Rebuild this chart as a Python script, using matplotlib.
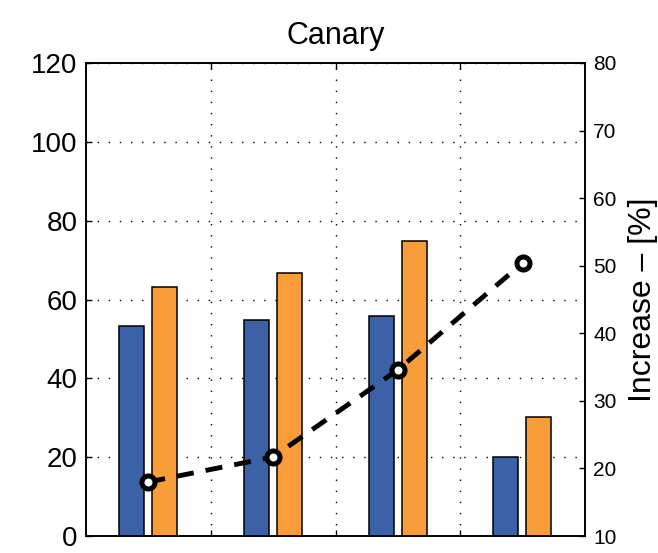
import numpy as np
import matplotlib
matplotlib.use("Agg")
from matplotlib import pyplot as plt

plt.rcParams['font.family'] = ['Liberation Sans', 'DejaVu Sans']

groups = [1, 2, 3, 4]
blue_vals = [53.4, 54.8, 55.8, 20.0]
orange_vals = [63.2, 66.8, 74.8, 30.2]
increase = [18.0, 21.7, 34.6, 50.4]

left_ticks = [0, 20, 40, 60, 80, 100, 120]
right_ticks = [10, 20, 30, 40, 50, 60, 70, 80]
grid_x = [1.5, 2.5, 3.5]

blue = '#3B62A6'
orange = '#F99D3A'

fig = plt.figure(figsize=(6.58, 5.53), dpi=100)
ax = fig.add_axes([86/658, 17/553, 499/658, 473/553])

x = np.array(groups)
ax.bar(x - 0.135, blue_vals, width=0.2, color=blue, edgecolor='black', linewidth=1.1, zorder=3)
ax.bar(x + 0.13, orange_vals, width=0.2, color=orange, edgecolor='black', linewidth=1.1, zorder=3)

ax.set_xlim(0.5, 4.5)
ax.set_ylim(0, 120)
ax.set_xticks(grid_x)
ax.set_xticklabels([])
ax.set_yticks(left_ticks)
ax.tick_params(axis='y', direction='in', length=4, width=1, labelsize=20, pad=6)
ax.tick_params(axis='x', direction='in', length=4, width=1, top=True, bottom=True)
ax.grid(True, color='black', linestyle=(0, (1, 7)), linewidth=1.0, zorder=0)
ax.set_axisbelow(True)
for s in ax.spines.values():
    s.set_linewidth(1.2)

ax.set_title('Canary', fontsize=22, pad=14)

ax2 = ax.twinx()
ax2.set_ylim(10, 80)
ax2.set_yticks(right_ticks)
ax2.tick_params(axis='y', direction='in', length=4, width=1, labelsize=15, pad=6)
ax2.plot(groups, increase, color='black', linestyle=(0, (3.5, 2.5)), linewidth=3.5,
         marker='o', markersize=9.4, markerfacecolor='white', markeredgecolor='black',
         markeredgewidth=3.6, zorder=5)
ax2.set_ylabel('Increase \u2013 [%]', fontsize=23, labelpad=8)
for s in ax2.spines.values():
    s.set_linewidth(1.2)

fig.savefig('out.png', dpi=100)
